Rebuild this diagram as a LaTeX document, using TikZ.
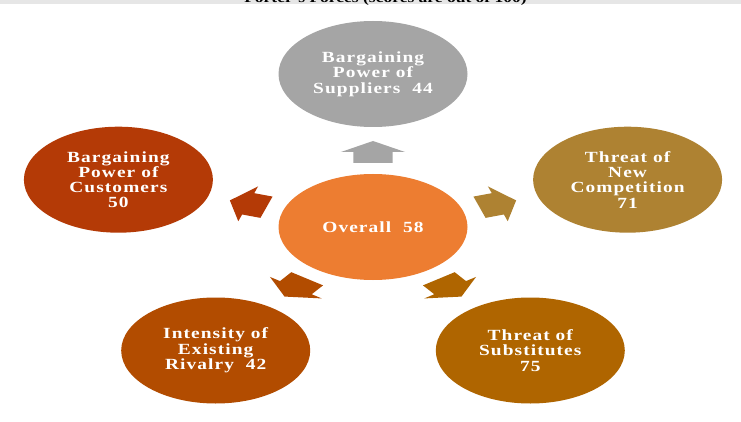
\documentclass[tikz,border=0pt]{standalone}
\usepackage{fontspec}
\usetikzlibrary{shapes.geometric}
\newfontfamily\lblfont{Liberation Serif}[FakeStretch=1.25,LetterSpace=7]
\newfontfamily\ttlfont{Liberation Serif}[FakeStretch=1.25]
\definecolor{cOver}{HTML}{ED7D31}
\definecolor{cSup}{HTML}{A5A5A5}
\definecolor{cCus}{HTML}{B43A06}
\definecolor{cNew}{HTML}{AE8232}
\definecolor{cRiv}{HTML}{B24C00}
\definecolor{cSub}{HTML}{AF6500}
\definecolor{barGray}{HTML}{E6E6E6}
\begin{document}
\begin{tikzpicture}[x=1pt,y=-1pt,
  force/.style={ellipse, minimum width=189pt, minimum height=106pt, inner sep=0pt,
    text=white, align=center,
    font=\lblfont\bfseries\fontsize{15.5}{15.3}\selectfont},
  blockarrow/.style={draw=none}]
\useasboundingbox (0,0) rectangle (741,422);
\fill[white] (0,0) rectangle (741,422);
\begin{scope}
  \clip (0,0) rectangle (741,422);
  \fill[barGray] (0,0) rectangle (741,4);
  \node[anchor=base, inner sep=0pt, font=\ttlfont\bfseries\fontsize{14}{16}\selectfont] (title) at (385.5,3) {Porter’s Forces (scores are out of 100)};
\end{scope}
\node[force, fill=cOver] (ov) at (373,227) {Overall\ \ 58};
\node[force, fill=cSup] (sup) at (373,74) {Bargaining\\Power of\\Suppliers\ \ 44};
\node[force, fill=cCus] (cus) at (118.4,179.7) {Bargaining\\Power of\\Customers\\50};
\node[force, fill=cNew] (newc) at (627.6,179.7) {Threat of\\New\\Competition\\71};
\node[force, fill=cRiv] (riv) at (215.7,350.5) {Intensity of\\Existing\\Rivalry\ \ 42};
\node[force, fill=cSub] (sub) at (530.3,350.5) {Threat of\\Substitutes\\75};
\foreach \ang/\col in {0/cSup, 72/cCus, 144/cRiv, -144/cSub, -72/cNew} {
  \begin{scope}[shift={(ov.center)}, xscale=1.75, rotate=\ang]
    \fill[\col, blockarrow] (-11.2,-64) -- (11.2,-64) -- (11.2,-75) -- (18.3,-75) -- (0,-86) -- (-18.3,-75) -- (-11.2,-75) -- cycle;
  \end{scope}
}
\end{tikzpicture}
\end{document}
